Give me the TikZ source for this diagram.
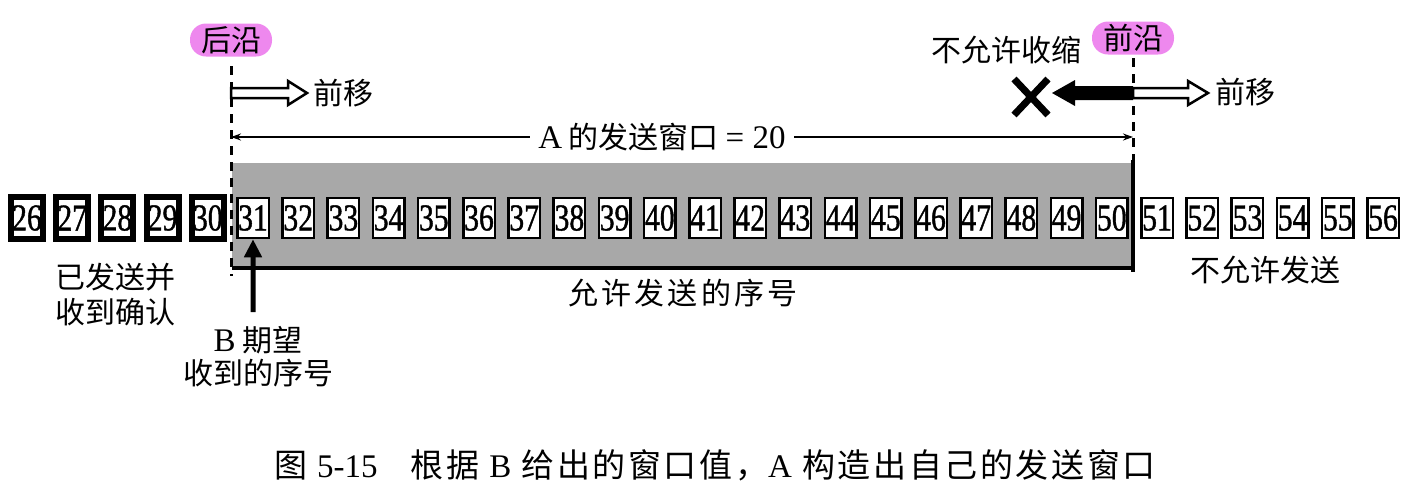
\documentclass[tikz,border=0pt]{standalone}
\usepackage{fontspec}
\setmainfont{Liberation Serif}
\newfontfamily\cjk{Noto Sans CJK SC}
\newfontfamily\digfont[FakeStretch=0.78,FakeBold=1]{Liberation Serif}
\newcommand\lat[1]{{\fontsize{33}{36}\selectfont\rmfamily #1}}
\usetikzlibrary{arrows.meta,calc}
\definecolor{pinkbg}{RGB}{238,136,238}
\definecolor{bandgray}{RGB}{168,168,168}
\begin{document}
\begin{tikzpicture}[x=1pt,y=-1pt,
  lab/.style={font=\fontsize{30}{34}\selectfont\cjk, inner sep=0pt},
  pill/.style={lab, fill=pinkbg, rounded corners=16pt, minimum width=82pt, minimum height=33pt},
  wbox/.style={draw, line width=2.5pt, fill=white, minimum width=31.5pt, minimum height=40pt, inner sep=0pt, font=\fontsize{38}{38}\selectfont\digfont},
  dbox/.style={wbox, line width=6pt, minimum width=32pt, minimum height=42pt},
  edgeline/.style={line width=3pt, dash pattern=on 9pt off 7pt},
  hollow/.style={draw, line width=2.5pt, fill=white, line join=miter},
  winarrow/.style={line width=1.6pt, {Stealth[length=10pt,width=7pt]}-{Stealth[length=10pt,width=7pt]}},
  uparrow/.style={line width=5pt, -{Triangle[length=18pt,width=17pt]}},
]
\useasboundingbox (0,0) rectangle (1421,496);
% shaded window band
\node[fill=bandgray, minimum width=901pt, minimum height=105pt, inner sep=0pt] (band) at (682.5,215.5) {};
\draw[line width=3.5pt] (band.south west) -- (band.south east);
\draw[line width=4pt] ($(band.north east)+(0,-3)$) -- ($(band.south east)+(0,4)$);
% boxes
\foreach \i in {26,...,30} \node[dbox] (b\i) at ({27+45.2*(\i-26)},218) {\i};
\foreach \i in {31,...,56} \node[wbox] (b\i) at ({27+45.2*(\i-26)},218) {\i};
% edges
\node[pill] (hou) at (231,40) {后沿};
\node[pill] (qian) at (1133,38) {前沿};
\coordinate (Ltop) at (231,66);
\coordinate (Lbot) at (231,276);
\coordinate (Rtop) at (1133,58);
\coordinate (Rbot) at (1133,160);
\draw[edgeline] (Ltop) -- (Lbot);
\draw[edgeline] (Rtop) -- (Rbot);
% forward moves
\coordinate (la) at (231,93);
\coordinate (ra) at (1133,93);
\draw[hollow] (la) ++(0,-5) -- ++(57,0) -- ++(0,-7) -- ++(19,12) -- ++(-19,12) -- ++(0,-7) -- ++(-57,0) -- cycle;
\node[lab, anchor=west] (qy1) at (313,93) {前移};
\draw[hollow] (ra) ++(0,-5) -- ++(55,0) -- ++(0,-7) -- ++(20,12) -- ++(-20,12) -- ++(0,-7) -- ++(-55,0) -- cycle;
\node[lab, anchor=west] (qy2) at (1215,92) {前移};
\fill (ra) ++(0,-7) -- ++(-58,0) -- ++(0,-6) -- ++(-23,13) -- ++(23,13) -- ++(0,-6) -- ++(58,0) -- cycle;
\coordinate (xm) at (1031,97);
\draw[line width=7pt] (xm) ++(-17,-18) -- ++(34,36) (xm) ++(17,-18) -- ++(-34,36);
\node[lab] (bsx) at (1006,50) {不允许收缩};
% window size
\coordinate (wl) at (231,137);
\coordinate (wr) at (1133,137);
\draw[winarrow] (wl) -- (wr);
\node[lab, fill=white, inner xsep=8pt, inner ysep=2pt] (win) at (662,137) {\lat{A} 的发送窗口 \lat{= 20}};
% labels
\node[lab] (yifa) at (115,277) {已发送并};
\node[lab] (shou) at (115,312) {收到确认};
\node[lab] (bqw) at (258,340) {\lat{B} 期望};
\node[lab] (sdxh) at (258,373) {收到的序号};
\coordinate (ua) at (253,312);
\draw[uparrow] (ua) -- (b31.south);
\node[lab] (yx) at (683,293) {\addfontfeatures{LetterSpace=11}允许发送的序号};
\node[lab] (byx) at (1265,270) {不允许发送};
\node[lab, font=\fontsize{33}{36}\selectfont\cjk] (cap) at (715,465) {\addfontfeatures{LetterSpace=8}图 \lat{5-15}\quad 根据 \lat{B} 给出的窗口值，\lat{A} 构造出自己的发送窗口};
\end{tikzpicture}
\end{document}
